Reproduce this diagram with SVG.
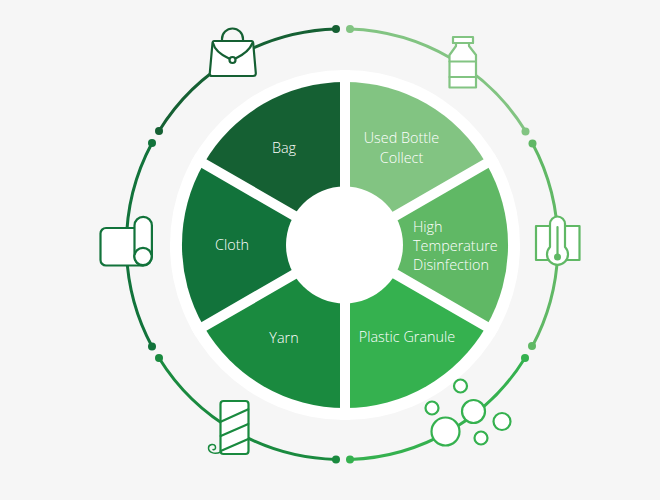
<svg xmlns="http://www.w3.org/2000/svg" width="660" height="500" viewBox="0 0 660 500">
<style>
.t{font-family:"Open Sans","Noto Sans","Liberation Sans",sans-serif;font-size:14.4px;font-weight:300;fill:#fff}
.m{text-anchor:middle}
.a{fill:none;stroke-width:3;stroke-linecap:round}
.i{fill:#fff;stroke-width:2.2;stroke-linejoin:round;stroke-linecap:round}
.n{fill:none}
.c1{stroke:#82c482}.c2{stroke:#60b865}.c3{stroke:#35b14f}.c4{stroke:#1a8a3f}.c5{stroke:#12733b}.c6{stroke:#156033}
</style>
<rect width="660" height="500" fill="#f6f6f6"/>
<circle cx="345" cy="245" r="175" fill="#fff"/>
<g id="connectors">
<path class="a c1" d="M350 29A215 215 0 0 1 525.500 131"/>
<path class="a c2" d="M532.500 143.500A215 215 0 0 1 532.500 346"/>
<path class="a c3" d="M525 358A215 215 0 0 1 350 459.500"/>
<path class="a c4" d="M336 459.500A215 215 0 0 1 159 358"/>
<path class="a c5" d="M152 346.500A215 215 0 0 1 152 143"/>
<path class="a c6" d="M159 131A215 215 0 0 1 336 29"/>
<g id="dots">
<circle cx="350" cy="29" r="4" fill="#82c482"/><circle cx="525.500" cy="131.500" r="4" fill="#82c482"/>
<circle cx="532.500" cy="143.500" r="4" fill="#60b865"/><circle cx="532" cy="346" r="4" fill="#60b865"/>
<circle cx="525" cy="358" r="4" fill="#35b14f"/><circle cx="350" cy="459.500" r="4" fill="#35b14f"/>
<circle cx="336" cy="459.500" r="4" fill="#1a8a3f"/><circle cx="159" cy="358" r="4" fill="#1a8a3f"/>
<circle cx="152" cy="346.500" r="4" fill="#12733b"/><circle cx="152" cy="143" r="4" fill="#12733b"/>
<circle cx="159" cy="131" r="4" fill="#156033"/><circle cx="336" cy="29" r="4" fill="#156033"/>
</g>
</g>
<g id="wheel">
<path id="w1" fill="#82c482" d="M345 245V82A163 163 0 0 1 486.200 163.500Z"/>
<path id="w2" fill="#60b865" d="M345 245L486.200 163.500A163 163 0 0 1 486.200 326.500Z"/>
<path id="w3" fill="#35b14f" d="M345 245L486.200 326.500A163 163 0 0 1 345 408Z"/>
<path id="w4" fill="#1a8a3f" d="M345 245V408A163 163 0 0 1 203.800 326.500Z"/>
<path id="w5" fill="#12733b" d="M345 245L203.800 326.500A163 163 0 0 1 203.800 163.500Z"/>
<path id="w6" fill="#156033" d="M345 245L203.800 163.500A163 163 0 0 1 345 82Z"/>
<path fill="none" stroke="#fff" stroke-width="10" d="M345 70V420M193.400 157.500L496.600 332.500M193.400 332.500L496.600 157.500"/>
<circle cx="344.500" cy="245" r="58.500" fill="#fff"/>
</g>
<g id="node-used-bottle"><text class="t m" x="401.500" y="143">Used Bottle</text><text class="t m" x="401.500" y="163">Collect</text>
<g class="c1"><path class="i" d="M453 43V37H473V43H469V46L476 55V87.500H449.500V55L456 46V43Z"/><path class="i n" d="M453 43H473M449.500 61.500H476M449.500 77H476"/></g></g>
<g id="node-high-temp"><text class="t" x="413" y="231.500">High</text><text class="t" x="413" y="251">Temperature</text><text class="t" x="413" y="270">Disinfection</text>
<g class="c2"><rect class="i" x="536" y="226" width="43.500" height="34"/><path class="i" d="M550 247V224A7.500 7.500 0 0 1 565 224V247A10.500 10.500 0 1 1 550 247Z"/><path class="i n" d="M557.500 227V257"/><circle cx="557.500" cy="257" r="3.500" fill="#60b865" stroke="none"/></g></g>
<g id="node-plastic"><text class="t m" x="407" y="342">Plastic Granule</text>
<g class="i c3"><circle cx="460.500" cy="386" r="6.500"/><circle cx="432" cy="408" r="6.500"/><circle cx="473.500" cy="411.500" r="11.500"/><circle cx="445.500" cy="431.500" r="14"/><circle cx="502" cy="421.500" r="8.500"/><circle cx="481" cy="438" r="6.500"/></g></g>
<g id="node-yarn"><text class="t m" x="284" y="342.500">Yarn</text>
<g class="c4"><rect class="i" x="220.500" y="401" width="28" height="53" rx="3"/><path class="i n" d="M220.700 421.700L248.300 409.300M220.700 436L248.300 424M220.700 451L248.300 439"/><path class="n" stroke-width="1.500" stroke-linecap="round" d="M220.700 452C214 455 208.500 452 208.500 448C208.500 444 215 443 215.500 447C215.800 449.500 214 450 213 449.500"/></g></g>
<g id="node-cloth"><text class="t m" x="232" y="250">Cloth</text>
<g class="c5"><path class="i" d="M143 228H106A5.500 5.500 0 0 0 100.500 233.500V260A5.500 5.500 0 0 0 106 265.500H143Z"/><path class="i" d="M134.500 256.500V225.500A8.700 8.700 0 0 1 151.900 225.500V256.500A8.700 8.700 0 0 1 143 265.500A8.700 8.700 0 0 1 134.500 256.500Z"/><circle class="i" cx="143" cy="256.500" r="8.700"/></g></g>
<g id="node-bag"><text class="t m" x="284" y="153">Bag</text>
<g class="c6"><path class="i n" d="M222 41V39A10.500 10.500 0 0 1 243 39V41"/><path class="i" d="M214 41H251.500Q253 41 253.200 43L255.800 73Q256 76 253 76H212Q209.500 76 209.800 73L212.500 43Q212.800 41 214 41Z"/><path class="i n" d="M213 43Q215 52 229 58.500M235.500 58.500Q249 52 252.500 43"/><circle class="i" cx="232.500" cy="60" r="3"/></g></g>
</svg>
